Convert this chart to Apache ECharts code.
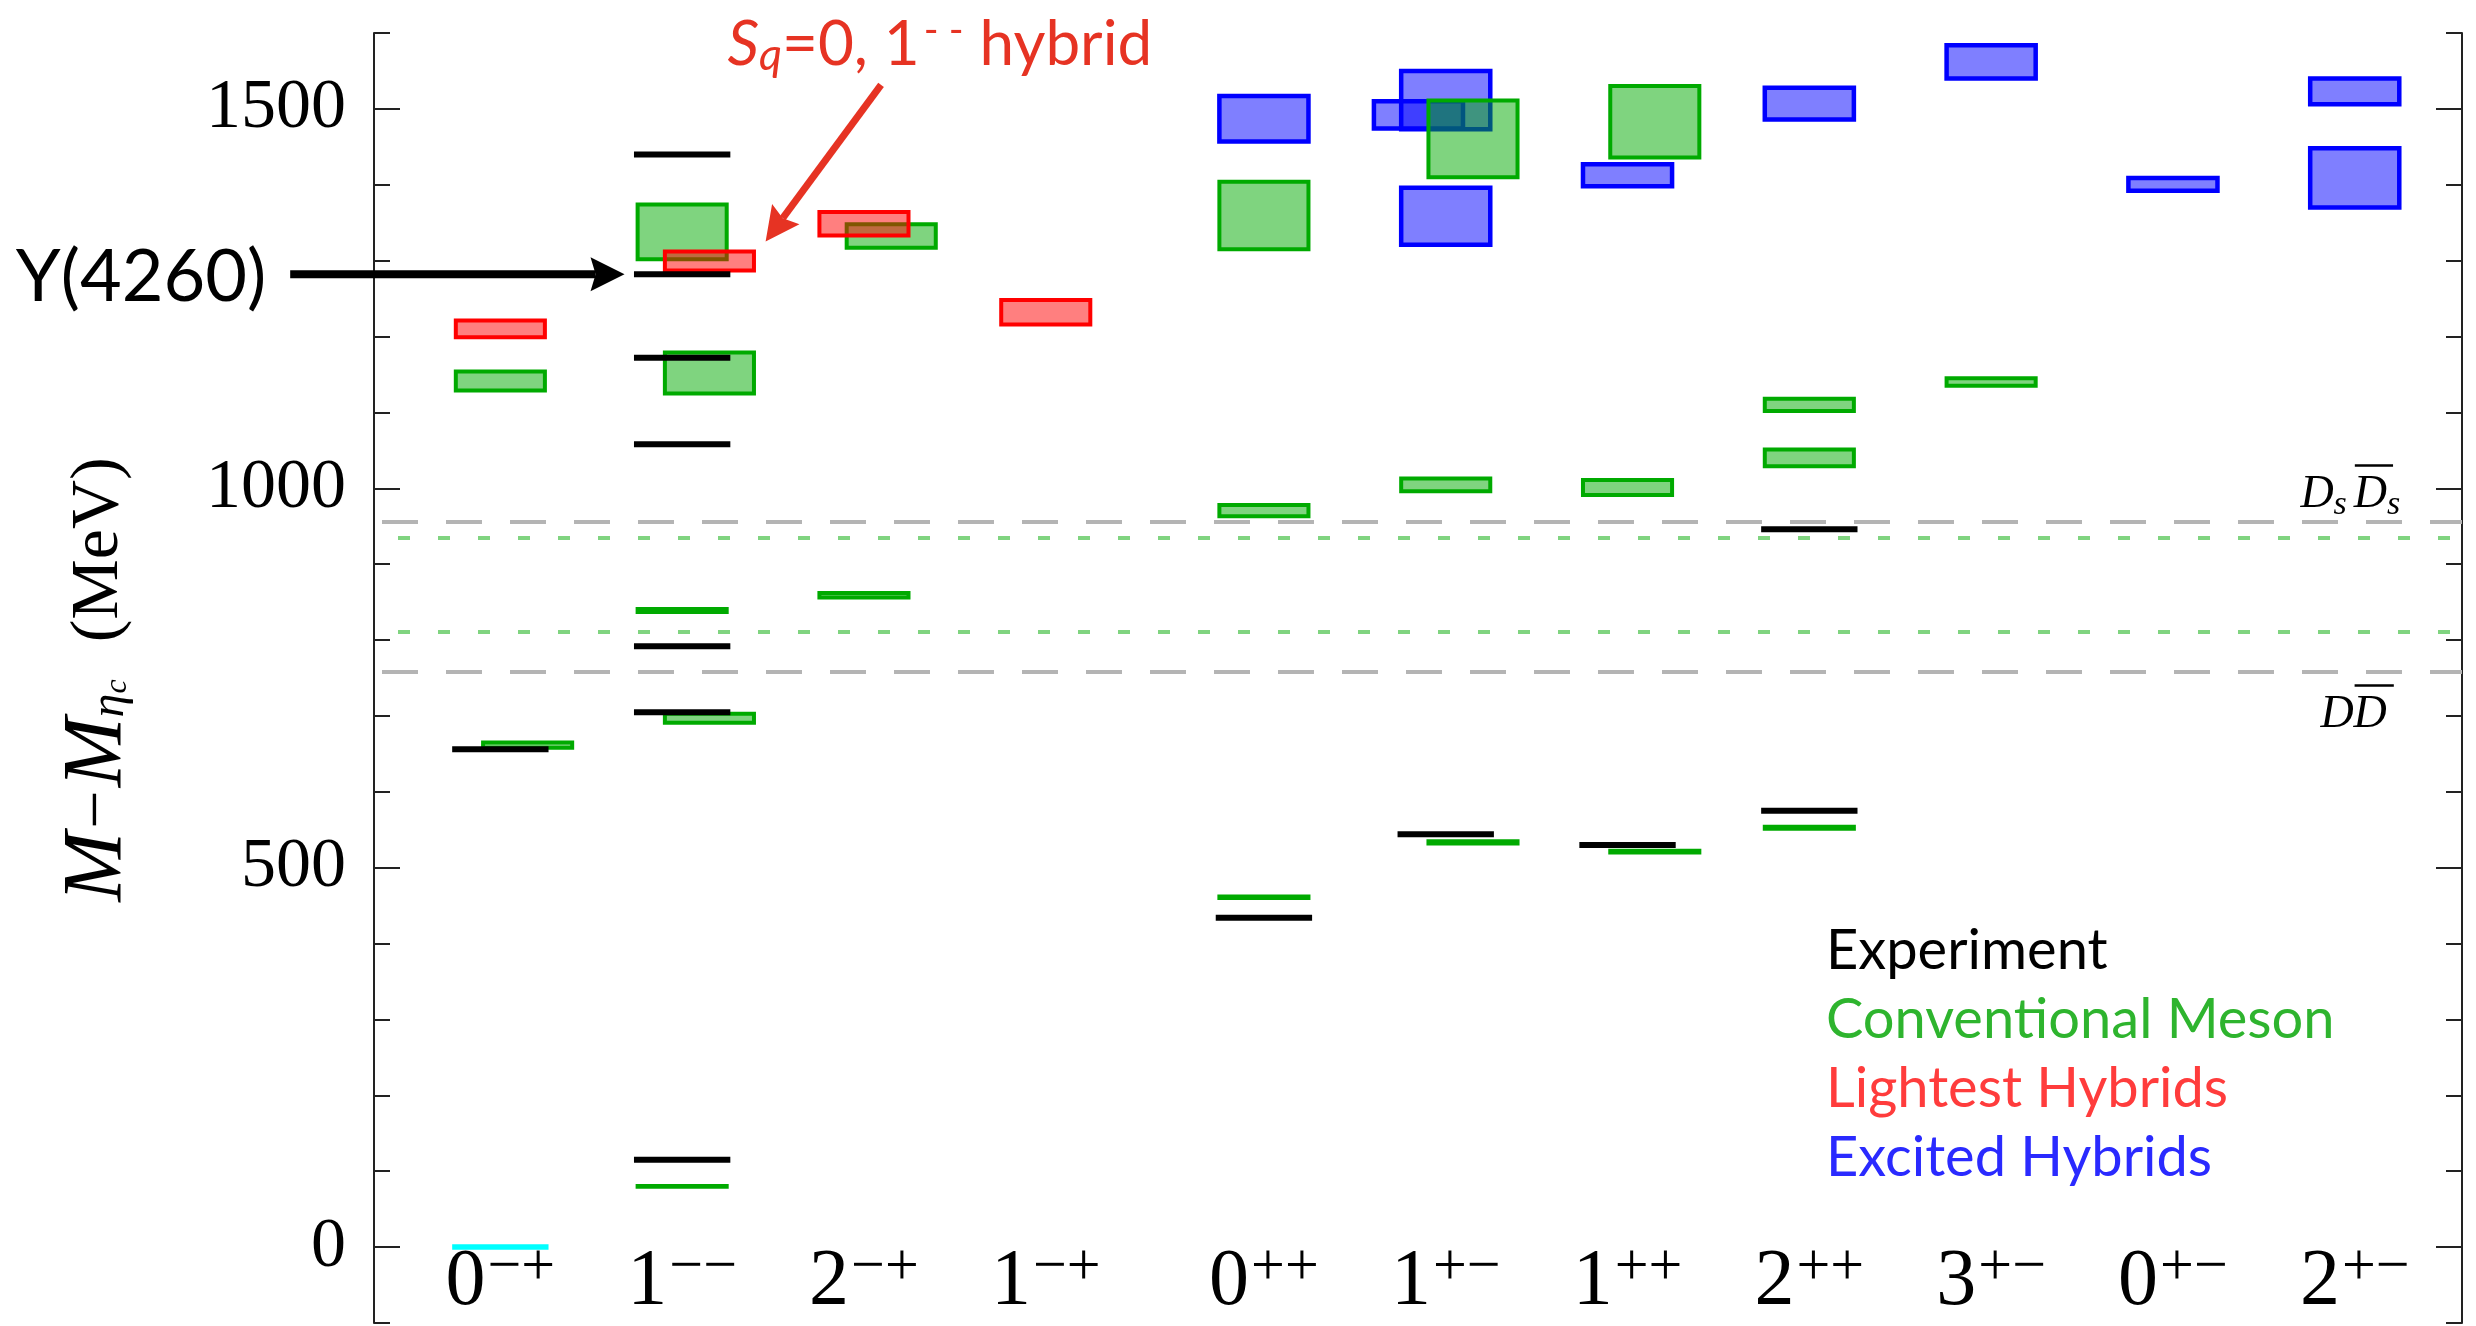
<!DOCTYPE html>
<html><head><meta charset="utf-8">
<script src="https://cdn.jsdelivr.net/npm/echarts@6/dist/echarts.min.js"></script>
<style>html,body{margin:0;padding:0;background:#fff;}#c{width:2476px;height:1326px;}</style>
</head><body><div id="c"></div>
<script>
// ---------------- data ----------------
const categoryBase = ['0','1','2','1','0','1','1','2','3','0','2'];
const categoryPC   = ['−+','−−','−+','−+','++','+−','++','++','+−','+−','+−'];
const categoryX    = [1,2,3,4,5.2,6.2,7.2,8.2,9.2,10.2,11.2];
const yTickLabels  = [0,500,1000,1500];

// experiment: [category index, M - M_etac (MeV)]
const experiment = [[0,656],[1,115],[1,705],[1,792],[1,1058],[1,1172],[1,1282],[1,1440],
                    [4,434],[5,544],[6,530],[7,575],[7,946]];
const etaCReference = [[0,0]];
// boxes: [category index, low, high, side (-1 left, 0 centre, +1 right)]
const conventional = [
  [0,1129,1154,0],[0,658,665,1],
  [1,1302,1374,0],[1,1125,1179,1],[1,837,841,0],[1,691,703,1],[1,79.5,80.5,0],
  [2,1317,1348,1],[2,856,862,0],
  [4,1315,1404,0],[4,963,978,0],[4,460,462,0],
  [5,1410,1511,1],[5,996,1013,0],[5,532,535,1],
  [6,1436,1530,1],[6,991,1011,0],[6,520,522.5,1],
  [7,1102,1118,0],[7,1029,1051,0],[7,551.5,554,0],
  [8,1135,1145,0]
];
const lightestHybrids = [[0,1199,1221,0],[1,1287,1312,1],[2,1333,1364,0],[3,1216,1248,0]];
const excitedHybrids = [
  [4,1457,1517,0],
  [5,1474,1510,-1],[5,1473,1550,0],[5,1321,1396,0],
  [6,1398,1427,0],[7,1486,1528,0],[8,1540,1584,0],[9,1392,1409,0],
  [10,1506,1540,0],[10,1370,1448,0]
];
const thresholdDsDs = 956, thresholdDD = 758;
const latticeThresholds = [935, 811];
const y4260Value = 1282;

// ---------------- helpers ----------------
const SHIFT = 0.15, HALF = 0.245, EXP_HALF = 0.265;
const SERIF = '"Liberation Serif", "Times New Roman", serif';
const SANS = 'Lato, "Open Sans", sans-serif';
const mctx = document.createElement('canvas').getContext('2d');
function measure(font, t){ mctx.font = font; return mctx.measureText(t).width; }
function midToBase(font){ mctx.font = font; mctx.textBaseline = 'middle'; const m = mctx.measureText('H'); mctx.textBaseline='alphabetic'; return m.actualBoundingBoxDescent; }

function boxSeries(name, arr, stroke, fill, lw) {
  return {
    type:'custom', name, xAxisIndex:0, yAxisIndex:0,
    data: arr.map(d => [categoryX[d[0]] + d[3]*SHIFT, d[1], d[2]]),
    encode:{x:0, y:[1,2]},
    renderItem:(params, api) => {
      const x = api.value(0), lo = api.value(1), hi = api.value(2);
      const a = api.coord([x-HALF, hi]), b = api.coord([x+HALF, lo]);
      return {type:'rect', shape:{x:a[0], y:a[1], width:b[0]-a[0], height:Math.max(b[1]-a[1],0.01)},
              style:{fill, stroke, lineWidth:lw}};
    }
  };
}
function levelSeries(name, arr, color, width) {
  return {
    type:'custom', name, xAxisIndex:0, yAxisIndex:0,
    data: arr.map(d => [categoryX[d[0]], d[1]]),
    encode:{x:0, y:1},
    renderItem:(params, api) => {
      const x = api.value(0), v = api.value(1);
      const a = api.coord([x-EXP_HALF, v]), b = api.coord([x+EXP_HALF, v]);
      return {type:'line', shape:{x1:a[0], y1:a[1], x2:b[0], y2:b[1]}, style:{stroke:color, lineWidth:width}};
    }
  };
}
function textRun(pieces, x0, baseY, color, align) {
  const fonts = pieces.map(p => `${p.italic?'italic ':''}${p.size}px ${p.family}`);
  const widths = pieces.map((p,i) => measure(fonts[i], p.text));
  let total = 0; pieces.forEach((p,i)=>{ total += widths[i] + (p.gap||0); });
  let x = align === 'right' ? x0 - total : x0;
  const els = [];
  pieces.forEach((p,i) => {
    const yb = baseY + (p.dy||0);
    els.push({type:'text', x:x, y:yb - midToBase(fonts[i]),
      style:{text:p.text, font:fonts[i], fill:color, align:'left', verticalAlign:'middle', textAlign:'left', textVerticalAlign:'middle'}});
    if (p.overline) {
      els.push({type:'line', shape:{x1:x+p.overline[0], y1:baseY-p.overline[2], x2:x+widths[i]+p.overline[1], y2:baseY-p.overline[2]},
        style:{stroke:color, lineWidth:2.5}});
    }
    x += widths[i] + (p.gap||0);
  });
  return els;
}
function arrowEls(p0, p1, w, headLen, headW, color) {
  const dx = p1[0]-p0[0], dy = p1[1]-p0[1], L = Math.hypot(dx,dy);
  const ux = dx/L, uy = dy/L, nx = -uy, ny = ux;
  const bx = p1[0]-ux*headLen, by = p1[1]-uy*headLen;
  const notch = headLen*0.15;
  return [
    {type:'line', shape:{x1:p0[0], y1:p0[1], x2:bx+ux*notch, y2:by+uy*notch}, style:{stroke:color, lineWidth:w}},
    {type:'polygon', shape:{points:[[p1[0],p1[1]],[bx+nx*headW,by+ny*headW],[bx+ux*notch,by+uy*notch],[bx-nx*headW,by-ny*headW]]}, style:{fill:color}}
  ];
}

// annotation anchors (data coordinates)
const y4260Label = {x:-0.288, base:1247};
const y4260Arrow = {from:[-0.156, y4260Value], to:[1.683, y4260Value]};
const hybridLabel = {x:2.249, base:1558};
const hybridArrow = {from:[3.094,1531.6], to:[2.459,1325.3]};
const dsdsLabel = {x:10.901, base:976};
const ddLabel = {x:11.011, base:686};

const annotationSeries = {
  type:'custom', name:'annotations', xAxisIndex:0, yAxisIndex:0, silent:true, z:10,
  data:[[1,0]], encode:{x:0,y:1},
  renderItem:(params, api) => {
    const els = [];
    const RED = '#e63323';
    let p = api.coord([y4260Label.x, y4260Label.base]);
    els.push(...textRun([{text:'Y(4260)', size:72, family:SANS}], p[0], p[1], '#000', 'right'));
    els.push(...arrowEls(api.coord(y4260Arrow.from), api.coord(y4260Arrow.to), 8, 34, 17, '#000'));
    p = api.coord([hybridLabel.x, hybridLabel.base]);
    els.push(...textRun([
      {text:'S', size:62, italic:true, family:SANS},
      {text:'q', size:45, italic:true, family:SANS, dy:5},
      {text:'=0, 1', size:62, family:SANS, gap:4},
      {text:'- -', size:40, family:SANS, dy:-21},
      {text:' hybrid', size:62, family:SANS}
    ], p[0], p[1], RED, 'left'));
    els.push(...arrowEls(api.coord(hybridArrow.from), api.coord(hybridArrow.to), 7, 34, 17, RED));
    p = api.coord([dsdsLabel.x, dsdsLabel.base]);
    els.push(...textRun([
      {text:'D', size:46, italic:true, family:SERIF},
      {text:'s', size:34, italic:true, family:SERIF, dy:7, gap:7},
      {text:'D', size:46, italic:true, family:SERIF, overline:[1,6,41]},
      {text:'s', size:34, italic:true, family:SERIF, dy:7}
    ], p[0], p[1], '#000', 'left'));
    p = api.coord([ddLabel.x, ddLabel.base]);
    els.push(...textRun([
      {text:'D', size:46, italic:true, family:SERIF},
      {text:'D', size:46, italic:true, family:SERIF, overline:[1,7,41]}
    ], p[0], p[1], '#000', 'left'));
    return {type:'group', children:els};
  }
};

const thresholdSeries = {
  type:'line', name:'thresholds', data:[], z:1, silent:true,
  markLine:{silent:true, symbol:['none','none'], label:{show:false}, animation:false,
    data:[
      {yAxis:thresholdDsDs, lineStyle:{color:'#b4b4b4', width:4, type:[36,28], dashOffset:56}},
      {yAxis:thresholdDD, lineStyle:{color:'#b4b4b4', width:4, type:[36,28], dashOffset:56}},
      ...latticeThresholds.map(v => ({yAxis:v, lineStyle:{color:'#80d480', width:4, type:[12,28], dashOffset:16}}))
    ]}
};

const axisLineStyle = {color:'#222', width:2};
const yBase = {type:'value', min:-100, max:1600, splitLine:{show:false}};

const option = {
  animation:false,
  backgroundColor:'#fff',
  grid:{left:374, right:14, top:33, bottom:3, outerBoundsMode:'none', containLabel:false},
  legend:{
    orient:'vertical', left:1816, top:918, icon:'none', itemWidth:0, itemHeight:10, itemGap:13,
    selectedMode:false,
    textStyle:{fontFamily:SANS, fontSize:56, lineHeight:56},
    data:[
      {name:'Experiment', textStyle:{color:'#000'}},
      {name:'Conventional Meson', textStyle:{color:'#2eb42e'}},
      {name:'Lightest Hybrids', textStyle:{color:'#ff3c3c'}},
      {name:'Excited Hybrids', textStyle:{color:'#2a2aff'}}
    ]
  },
  xAxis:{
    type:'value', min:0.305, max:11.79,
    axisLine:{show:false, onZero:false}, axisTick:{show:false}, splitLine:{show:false},
    axisLabel:{
      inside:true, margin:0, customValues:categoryX,
      formatter:(v) => {
        let i = categoryX.findIndex(c => Math.abs(c-v) < 1e-6);
        if (i < 0) return '';
        return '{n|' + categoryBase[i] + '}{s|' + categoryPC[i] + '}';
      },
      rich:{
        n:{fontFamily:SERIF, fontSize:80, lineHeight:56, verticalAlign:'bottom', color:'#000'},
        s:{fontFamily:SERIF, fontSize:60, lineHeight:56, verticalAlign:'bottom', padding:[0,0,25,2], color:'#000'}
      }
    }
  },
  yAxis:[
    Object.assign({}, yBase, {
      position:'left',
      axisLine:{show:true, onZero:false, lineStyle:axisLineStyle},
      axisTick:{show:true, inside:true, length:26, customValues:yTickLabels, lineStyle:axisLineStyle},
      axisLabel:{customValues:yTickLabels, margin:28, fontFamily:SERIF, fontSize:70, color:'#000',
                 formatter:(v) => String(Math.round(v))},
      name:'{i|M}{n|−}{i|M}{s1|η}{s2|c}{n|  (MeV)}',
      nameLocation:'middle', nameGap:240,
      nameTextStyle:{fontFamily:SERIF, fontSize:66, color:'#000',
        rich:{
          i:{fontFamily:SERIF, fontStyle:'italic', fontSize:84, lineHeight:70, color:'#000'},
          n:{fontFamily:SERIF, fontSize:68, lineHeight:70, color:'#000', padding:[0,3,0,3]},
          s1:{fontFamily:SERIF, fontStyle:'italic', fontSize:48, lineHeight:31, verticalAlign:'bottom', color:'#000'},
          s2:{fontFamily:SERIF, fontStyle:'italic', fontSize:32, lineHeight:6, verticalAlign:'bottom', color:'#000'}
        }}
    }),
    Object.assign({}, yBase, {
      position:'left', interval:100,
      axisLine:{show:false, onZero:false},
      axisTick:{show:true, inside:true, length:16, lineStyle:axisLineStyle},
      axisLabel:{show:false}
    }),
    Object.assign({}, yBase, {
      position:'right',
      axisLine:{show:true, onZero:false, lineStyle:axisLineStyle},
      axisTick:{show:true, inside:true, length:26, customValues:yTickLabels, lineStyle:axisLineStyle},
      axisLabel:{show:false}
    }),
    Object.assign({}, yBase, {
      position:'right', interval:100,
      axisLine:{show:false, onZero:false},
      axisTick:{show:true, inside:true, length:16, lineStyle:axisLineStyle},
      axisLabel:{show:false}
    })
  ],
  series:[
    thresholdSeries,
    boxSeries('Excited Hybrids', excitedHybrids, '#0000ff', 'rgba(0,0,255,0.5)', 4.5),
    boxSeries('Conventional Meson', conventional, '#00aa00', 'rgba(0,170,0,0.5)', 4),
    boxSeries('Lightest Hybrids', lightestHybrids, '#ff0000', 'rgba(255,0,0,0.5)', 4),
    levelSeries('Experiment', experiment, '#000', 6),
    levelSeries('eta_c', etaCReference, '#00ffff', 5.5),
    annotationSeries
  ]
};
option.series.forEach(s => { if (s.type === 'custom') { s.clip = false; } });
option.series[1].color = '#0000ff';
option.series[2].color = '#00aa00';
option.series[3].color = '#ff0000';
option.series[4].color = '#000';

const chart = echarts.init(document.getElementById('c'), null, {renderer:'canvas', width:2476, height:1326});
chart.setOption(option);
</script>
</body></html>
